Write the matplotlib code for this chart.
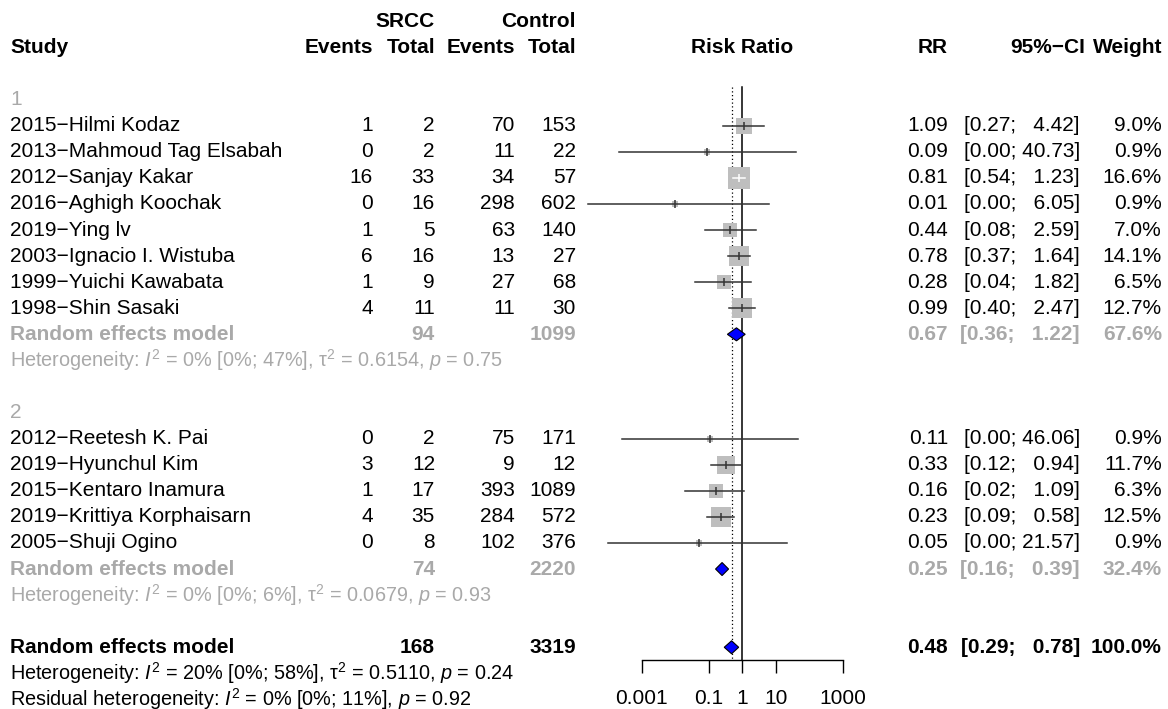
import numpy as np
import matplotlib
matplotlib.use('Agg')
import matplotlib.pyplot as plt
from matplotlib.patches import Polygon

plt.rcParams['font.family'] = ['Liberation Sans', 'DejaVu Sans']
plt.rcParams['mathtext.fontset'] = 'custom'
plt.rcParams['mathtext.rm'] = 'Liberation Sans'
plt.rcParams['mathtext.it'] = 'Liberation Sans:italic'
plt.rcParams['mathtext.bf'] = 'Liberation Sans:bold'

# ---- data ----
studies = ['2015−Hilmi Kodaz', '2013−Mahmoud Tag Elsabah', '2012−Sanjay Kakar',
           '2016−Aghigh Koochak', '2019−Ying lv', '2003−Ignacio I. Wistuba',
           '1999−Yuichi Kawabata', '1998−Shin Sasaki',
           '2012−Reetesh K. Pai', '2019−Hyunchul Kim', '2015−Kentaro Inamura',
           '2019−Krittiya Korphaisarn', '2005−Shuji Ogino']
subgroup = [1, 1, 1, 1, 1, 1, 1, 1, 2, 2, 2, 2, 2]
srcc_events = [1, 0, 16, 0, 1, 6, 1, 4, 0, 3, 1, 4, 0]
srcc_total = [2, 2, 33, 16, 5, 16, 9, 11, 2, 12, 17, 35, 8]
ctrl_events = [70, 11, 34, 298, 63, 13, 27, 11, 75, 9, 393, 284, 102]
ctrl_total = [153, 22, 57, 602, 140, 27, 68, 30, 171, 12, 1089, 572, 376]
rr = [1.09, 0.09, 0.81, 0.01, 0.44, 0.78, 0.28, 0.99, 0.11, 0.33, 0.16, 0.23, 0.05]
ci_low = [0.27, 0.00022, 0.54, 0.000026, 0.08, 0.37, 0.04, 0.40,
          0.00026, 0.12, 0.02, 0.09, 0.0001]
ci_high = [4.42, 40.73, 1.23, 6.05, 2.59, 1.64, 1.82, 2.47,
           46.06, 0.94, 1.09, 0.58, 21.57]
weight = [9.0, 0.9, 16.6, 0.9, 7.0, 14.1, 6.5, 12.7, 0.9, 11.7, 6.3, 12.5, 0.9]

group_rr = [0.67, 0.25]
group_low = [0.36, 0.16]
group_high = [1.22, 0.39]
group_weight = [67.6, 32.4]
group_het = [r'Heterogeneity: $I^2$ = 0% [0%; 47%], τ$^2$ = 0.6154, $p$ = 0.75',
             r'Heterogeneity: $I^2$ = 0% [0%; 6%], τ$^2$ = 0.0679, $p$ = 0.93']

overall_rr = 0.48
overall_low = 0.29
overall_high = 0.78
overall_weight = 100.0
overall_het = r'Heterogeneity: $I^2$ = 20% [0%; 58%], τ$^2$ = 0.5110, $p$ = 0.24'
resid_het = r'Residual heterogeneity: $I^2$ = 0% [0%; 11%], $p$ = 0.92'

axis_ticks = [0.001, 0.1, 1, 10, 1000]
axis_labels = ['0.001', '0.1', '1', '10', '1000']

# ---- layout (pixels) ----
W, H = 1168, 709
fs = 15
fs_het = 14.3
gray = '#a9a9a9'
x_study = 10
x_ev1, x_tot1, x_ev2, x_tot2 = 373, 435, 515, 576
x_rr, x_ci, x_w = 948, 1080, 1162
x_forest_c = 742.3
px_decade = 33.6


def row_y(i):
    return 99.6 + 26.08 * i


def fmt_ci(lo, hi):
    return '[%.2f; %s]' % (lo, ('%.2f' % hi).rjust(5).replace(' ', '  '))


fig = plt.figure(figsize=(W / 100, H / 100), dpi=100)
tax = fig.add_axes([0, 0, 1, 1])
tax.set_xlim(0, W)
tax.set_ylim(H, 0)
tax.axis('off')

fl, fr = 560, 880
fax = fig.add_axes([fl / W, 0, (fr - fl) / W, 1])
fax.set_xscale('log')
fax.set_xlim(10 ** ((fl - x_forest_c) / px_decade), 10 ** ((fr - x_forest_c) / px_decade))
fax.set_ylim(H, 0)
fax.patch.set_alpha(0)
for s in ['top', 'left', 'right']:
    fax.spines[s].set_visible(False)
fax.yaxis.set_visible(False)


def txt(x, y, s, ha='right', color='black', bold=False, size=fs):
    tax.text(x, y, s, ha=ha, va='center', color=color, fontsize=size,
             fontweight='bold' if bold else 'normal')


# header
txt(x_tot1, row_y(-3), 'SRCC', bold=True)
txt(x_tot2, row_y(-3), 'Control', bold=True)
txt(x_study, row_y(-2), 'Study', ha='left', bold=True)
for x, s in zip([x_ev1, x_tot1, x_ev2, x_tot2], ['Events', 'Total', 'Events', 'Total']):
    txt(x, row_y(-2), s, bold=True)
txt(x_forest_c, row_y(-2), 'Risk Ratio', ha='center', bold=True)
txt(x_rr, row_y(-2), 'RR', bold=True)
txt(1085, row_y(-2), '95%−CI', bold=True)
txt(x_w, row_y(-2), 'Weight', bold=True)


def to_px(v):
    return fax.transData.transform((v, 0))[0]


def diamond(est, lo, hi, y):
    fax.add_patch(Polygon([(lo, y), (est, y - 6.5), (hi, y), (est, y + 6.5)],
                          closed=True, facecolor='#0000ff', edgecolor='black',
                          lw=0.8, zorder=5))


row = 0
for g in [1, 2]:
    idx = [i for i, s in enumerate(subgroup) if s == g]
    txt(x_study, row_y(row), str(g), ha='left', color=gray)
    row += 1
    for i in idx:
        y = row_y(row)
        txt(x_study, y, studies[i], ha='left')
        txt(x_ev1, y, str(srcc_events[i]))
        txt(x_tot1, y, str(srcc_total[i]))
        txt(x_ev2, y, str(ctrl_events[i]))
        txt(x_tot2, y, str(ctrl_total[i]))
        txt(x_rr, y, '%.2f' % rr[i])
        txt(x_ci, y, fmt_ci(ci_low[i], ci_high[i]))
        txt(x_w, y, '%.1f%%' % weight[i])

        # box area follows the weight
        side = 5.47 * np.sqrt(weight[i])
        fax.scatter([rr[i]], [y], marker='s', s=(side * 0.72) ** 2,
                    color='#bebebe', linewidths=0, zorder=3)
        inside = (to_px(rr[i]) - to_px(ci_low[i]) < side / 2 and
                  to_px(ci_high[i]) - to_px(rr[i]) < side / 2)
        lc = 'white' if inside else '#333333'
        fax.plot([ci_low[i], ci_high[i]], [y, y], color=lc, lw=1.1, zorder=4)
        fax.plot([rr[i]], [y], marker='|', ms=6, mew=1.1, color=lc, zorder=4)
        row += 1

    y = row_y(row)
    gi = g - 1
    txt(x_study, y, 'Random effects model', ha='left', color=gray, bold=True)
    txt(x_tot1, y, str(sum(srcc_total[i] for i in idx)), color=gray, bold=True)
    txt(x_tot2, y, str(sum(ctrl_total[i] for i in idx)), color=gray, bold=True)
    txt(x_rr, y, '%.2f' % group_rr[gi], color=gray, bold=True)
    txt(x_ci, y, fmt_ci(group_low[gi], group_high[gi]), color=gray, bold=True)
    txt(x_w, y, '%.1f%%' % group_weight[gi], color=gray, bold=True)
    diamond(group_rr[gi], group_low[gi], group_high[gi], y)
    row += 1
    txt(x_study, row_y(row), group_het[gi], ha='left', color=gray, size=fs_het)
    row += 2

y = row_y(row)
txt(x_study, y, 'Random effects model', ha='left', bold=True)
txt(x_tot1, y, str(sum(srcc_total)), bold=True)
txt(x_tot2, y, str(sum(ctrl_total)), bold=True)
txt(x_rr, y, '%.2f' % overall_rr, bold=True)
txt(x_ci, y, fmt_ci(overall_low, overall_high), bold=True)
txt(x_w, y, '%.1f%%' % overall_weight, bold=True)
diamond(overall_rr, overall_low, overall_high, y)
txt(x_study, row_y(row + 1), overall_het, ha='left', size=fs_het)
txt(x_study, row_y(row + 2), resid_het, ha='left', size=fs_het)

# reference lines
y_axis = y + 13
fax.plot([1, 1], [row_y(-0.5), y_axis], color='black', lw=1.1, zorder=2)
fax.plot([overall_rr, overall_rr], [row_y(-0.5), y_axis], color='black',
         lw=0.9, ls=(0, (1, 2)), zorder=2)

# x axis
fax.spines['bottom'].set_position(('data', y_axis))
fax.spines['bottom'].set_bounds(axis_ticks[0], axis_ticks[-1])
fax.spines['bottom'].set_linewidth(1.0)
fax.set_xticks(axis_ticks)
fax.set_xticklabels(axis_labels)
fax.minorticks_off()
fax.tick_params(axis='x', direction='out', length=9.4, width=1.0, pad=11,
                labelsize=fs)

fig.savefig('out.png', dpi=100)
